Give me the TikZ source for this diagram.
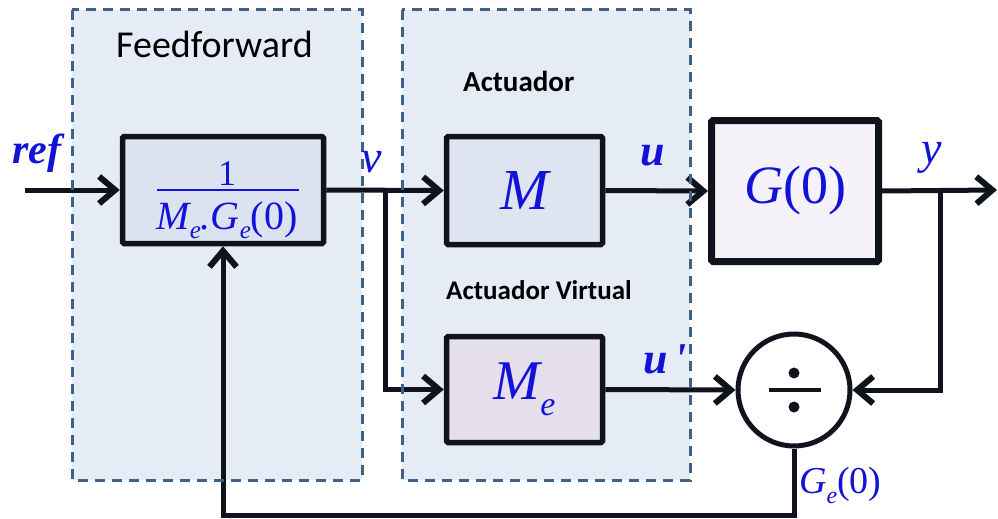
\documentclass[tikz,border=0pt]{standalone}
\usepackage{fontspec}
\usepackage{graphicx}
\setmainfont{Liberation Serif}
\newfontfamily\labelfont{Carlito}
\usetikzlibrary{arrows.meta}
\definecolor{regfill}{HTML}{E6ECF6}
\definecolor{regdash}{HTML}{3F6186}
\definecolor{ink}{HTML}{0F141C}
\definecolor{txtblue}{HTML}{1212D8}
\definecolor{ffill}{HTML}{DCE3F0}
\definecolor{mfill}{HTML}{DFE4F1}
\definecolor{gfill}{HTML}{F5F2FA}
\definecolor{mefill}{HTML}{E4DFEA}
\newcommand{\fsz}[1]{\fontsize{#1}{#1}\selectfont}
\begin{document}
\begin{tikzpicture}[x=1pt,y=-1pt,
  region/.style={fill=regfill},
  regionborder/.style={draw=regdash, line width=3pt, dash pattern=on 10pt off 7pt},
  block/.style={draw=ink, line width=5.5pt, rounded corners=1.5pt, inner sep=0pt, text=txtblue},
  conn/.style={draw=ink, line width=5pt},
  arr/.style={conn, -{Straight Barb[length=16pt,width=27pt,line width=6pt]}},
  mathlbl/.style={text=txtblue, inner sep=0pt},
  title/.style={inner sep=0pt, text=black}]
\useasboundingbox (0,0) rectangle (998,519);
\fill[white] (0,0) rectangle (998,519);
% regions
\path[region] (72,10) rectangle (362,480);
\path[region] (402,10) rectangle (690,480);
% blocks
\node[block, fill=ffill, minimum width=201pt, minimum height=107pt] (ff) at (223,190) {};
\node[block, fill=mfill, minimum width=156pt, minimum height=108pt] (M) at (524.5,190.5) {\fsz{58}\itshape M};
\node[block, fill=gfill, line width=7pt, minimum width=167pt, minimum height=141pt] (G) at (795,191) {\fsz{54}\itshape G\upshape(0)};
\node[block, fill=mefill, minimum width=156pt, minimum height=106pt] (Me) at (524.5,389.5) {\fsz{56}\itshape M\raisebox{-16pt}{\fsz{34}e}};
\node[draw=ink, line width=5pt, fill=white, circle, minimum size=112pt, inner sep=0pt] (div) at (794,390) {};
% division sign
\fill[ink] (794,373) circle (5.5);
\fill[ink] (794,407) circle (5.5);
\draw[ink, line width=4pt] (769,390) -- (821,390);
% coordinates
\coordinate (in) at (25,190);
\coordinate (vb) at (385,190);
\coordinate (yb) at (940,190);
\coordinate (out) at (997,190);
\coordinate (fb) at (223,515);
% connectors
\draw[arr] (in) -- (ff.west);
\draw[arr] (ff.east) -- (M.west);
\draw[arr] (vb) |- (Me.west);
\draw[arr] (M.east) -- (G.west);
\draw[arr] (G.east) -- (out);
\draw[arr] (yb) |- (div.east);
\draw[arr] (Me.east) -- (div.west);
\draw[arr] (div.south) |- (fb) -- (ff.south);
% region borders
\draw[regionborder] (72,10) rectangle (362,480);
\draw[regionborder] (402,10) rectangle (690,480);
% fraction
\node[mathlbl, anchor=base] (num) at (227,185) {\fsz{36}1};
\draw[txtblue, line width=2pt] (157,190) -- (299,190);
\node[mathlbl, anchor=base] (den) at (227,229) {\fsz{40}\itshape M\raisebox{-9pt}{\fsz{25}e}.G\raisebox{-9pt}{\fsz{25}e}\upshape(0)};
% labels
\node[mathlbl, anchor=base west] (lref) at (12,163) {\fsz{42}\bfseries\itshape ref};
\node[mathlbl, anchor=base west] (lv) at (361,172) {\fsz{46}\itshape v};
\node[mathlbl, anchor=base west] (lu) at (640,165) {\fsz{44}\bfseries\itshape u};
\node[mathlbl, anchor=base west] (ly) at (921,163) {\fsz{46}\itshape y};
\node[mathlbl, anchor=base west] (lup) at (643,373) {\fsz{44}\bfseries\itshape u\,\textquotesingle};
\node[mathlbl, anchor=base west] (lge) at (799,493) {\fsz{38}\itshape G\raisebox{-10pt}{\fsz{24}e}\upshape(0)};
% titles
\node[title, anchor=base west] (tff) at (116,57) {\labelfont\fsz{38}Feedforward};
\node[title, anchor=base west] (tact) at (463,92) {\labelfont\bfseries\fsz{29}Actuador};
\node[title, anchor=base west] (tav) at (446,299) {\labelfont\bfseries\fsz{27}Actuador Virtual};
\end{tikzpicture}
\end{document}
